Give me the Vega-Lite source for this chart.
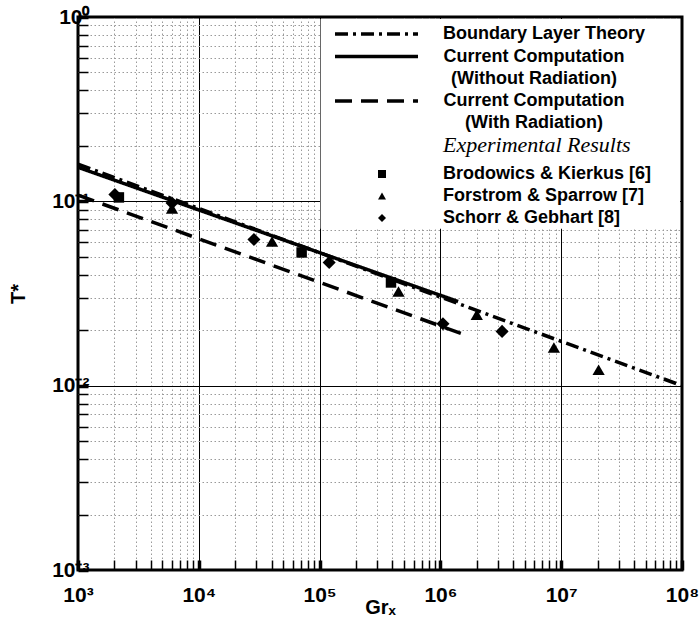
{
  "$schema": "https://vega.github.io/schema/vega-lite/v6.json",
  "width": 604,
  "height": 553,
  "autosize": "none",
  "padding": {"left": 78, "top": 17, "right": 18, "bottom": 51},
  "background": "white",
  "config": {
    "view": {"stroke": "black", "strokeWidth": 3},
    "font": "Liberation Sans",
    "axis": {
      "zindex": 0,
      "domain": false,
      "tickColor": "black",
      "tickSize": -10,
      "tickWidth": {"condition": {"test": "abs(log(datum.value)/LN10 - round(log(datum.value)/LN10)) < 0.001", "value": 3.5}, "value": 1.5},
      "grid": true,
      "gridColor": {"condition": {"test": "abs(log(datum.value)/LN10 - round(log(datum.value)/LN10)) < 0.001", "value": "black"}, "value": "#9a9a9a"},
      "gridDash": {"condition": {"test": "abs(log(datum.value)/LN10 - round(log(datum.value)/LN10)) < 0.001", "value": []}, "value": [1.5, 2.5]},
      "gridWidth": 1,
      "labelFont": "Liberation Sans",
      "labelFontWeight": "bold",
      "labelFontSize": 21,
      "labelColor": "black",
      "labelOverlap": false,
      "labelFlush": false,
      "labelBound": false,
      "titleFont": "Liberation Sans",
      "titleFontWeight": "bold",
      "titleFontSize": 20,
      "titleColor": "black"
    },
    "legend": {
      "labelFont": "Liberation Sans",
      "labelFontWeight": "bold",
      "labelFontSize": 18,
      "labelColor": "black",
      "labelLimit": 400
    }
  },
  "datasets": {
    "lines": [
      {"series": "Boundary Layer Theory", "Gr": 1000, "T": 0.159},
      {"series": "Boundary Layer Theory", "Gr": 100000000, "T": 0.01},
      {"series": "Current Computation (Without Radiation)", "Gr": 1000, "T": 0.153},
      {"series": "Current Computation (Without Radiation)", "Gr": 1400000, "T": 0.0286},
      {"series": "Current Computation (With Radiation)", "Gr": 1000, "T": 0.108},
      {"series": "Current Computation (With Radiation)", "Gr": 1660000, "T": 0.0187}
    ],
    "points": [
      {"source": "Brodowics & Kierkus [6]", "Gr": 2180, "T": 0.105},
      {"source": "Brodowics & Kierkus [6]", "Gr": 71000, "T": 0.0528},
      {"source": "Brodowics & Kierkus [6]", "Gr": 390000, "T": 0.0363},
      {"source": "Forstrom & Sparrow [7]", "Gr": 6000, "T": 0.0916},
      {"source": "Forstrom & Sparrow [7]", "Gr": 40400, "T": 0.0606},
      {"source": "Forstrom & Sparrow [7]", "Gr": 450000, "T": 0.0324},
      {"source": "Forstrom & Sparrow [7]", "Gr": 2000000, "T": 0.0243},
      {"source": "Forstrom & Sparrow [7]", "Gr": 8700000, "T": 0.0161},
      {"source": "Forstrom & Sparrow [7]", "Gr": 20400000, "T": 0.0122},
      {"source": "Schorr & Gebhart [8]", "Gr": 2020, "T": 0.109},
      {"source": "Schorr & Gebhart [8]", "Gr": 6000, "T": 0.098},
      {"source": "Schorr & Gebhart [8]", "Gr": 28600, "T": 0.0621},
      {"source": "Schorr & Gebhart [8]", "Gr": 120000, "T": 0.0466},
      {"source": "Schorr & Gebhart [8]", "Gr": 1050000, "T": 0.0217},
      {"source": "Schorr & Gebhart [8]", "Gr": 3240000, "T": 0.0197}
    ]
  },
  "layer": [
    {
      "data": {"values": [{"box": 1}]},
      "mark": {"type": "rect", "fill": "white", "xOffset": 1, "x2Offset": -2, "y2Offset": 2},
      "encoding": {
        "x": {"datum": 100000, "type": "quantitative", "scale": {"type": "log"}},
        "x2": {"datum": 100000000},
        "y": {"datum": 0.071, "type": "quantitative", "scale": {"type": "log"}},
        "y2": {"datum": 1}
      }
    },
    {
      "data": {"name": "lines"},
      "mark": {"type": "line", "color": "black", "strokeWidth": 3.5, "strokeCap": "butt"},
      "encoding": {
        "x": {
          "field": "Gr", "type": "quantitative",
          "scale": {"type": "log", "domain": [1000, 100000000], "nice": false},
          "axis": {
            "title": "Grₓ",
            "titleBaseline": "alphabetic",
            "titleY": 43,
            "values": [1000,2000,3000,4000,5000,6000,7000,8000,9000,10000,20000,30000,40000,50000,60000,70000,80000,90000,100000,200000,300000,400000,500000,600000,700000,800000,900000,1000000,2000000,3000000,4000000,5000000,6000000,7000000,8000000,9000000,10000000,20000000,30000000,40000000,50000000,60000000,70000000,80000000,90000000,100000000],
            "labelPadding": 24,
            "labelExpr": "abs(log(datum.value)/LN10 - round(log(datum.value)/LN10)) < 0.001 ? '10' + ['⁰','¹','²','³','⁴','⁵','⁶','⁷','⁸','⁹'][round(log(datum.value)/LN10)] : ''"
          }
        },
        "y": {
          "field": "T", "type": "quantitative",
          "scale": {"type": "log", "domain": [0.001, 1], "nice": false},
          "axis": {
            "title": "T*",
            "titleX": -54,
            "titleBaseline": "alphabetic",
            "values": [0.001,0.002,0.003,0.004,0.005,0.006,0.007,0.008,0.009,0.01,0.02,0.03,0.04,0.05,0.06,0.07,0.08,0.09,0.1,0.2,0.3,0.4,0.5,0.6,0.7,0.8,0.9,1],
            "labelPadding": -1,
            "labelExpr": "abs(log(datum.value)/LN10 - round(log(datum.value)/LN10)) < 0.001 ? '10' + (round(log(datum.value)/LN10) < 0 ? '⁻' : '') + ['⁰','¹','²','³'][abs(round(log(datum.value)/LN10))] : ''"
          }
        },
        "strokeDash": {
          "field": "series", "type": "nominal",
          "scale": {
            "domain": ["Boundary Layer Theory", "Current Computation (Without Radiation)", "Current Computation (With Radiation)"],
            "range": [[13, 5, 3, 5], [1, 0], [17, 9]]
          },
          "legend": {
            "title": null,
            "orient": "none",
            "legendX": 286,
            "legendY": 4.5,
            "symbolType": "M-4,0H4",
            "symbolSize": 430.6,
            "symbolStrokeWidth": 3.5,
            "symbolStrokeColor": "black",
            "labelOffset": 54,
            "rowPadding": 0.5,
            "labelExpr": "datum.label == 'Boundary Layer Theory' ? datum.label : (datum.label == 'Current Computation (Without Radiation)' ? ['Current Computation', '(Without Radiation)'] : ['Current Computation', '(With Radiation)'])",
            "encode": {
              "labels": {"update": {
                "lineHeight": {"value": 22},
                "align": {"signal": "datum.label == 'Boundary Layer Theory' ? 'left' : 'center'"},
                "dx": {"signal": "datum.label == 'Boundary Layer Theory' ? 0 : 91"}
              }}
            }
          }
        }
      }
    },
    {
      "data": {"name": "points"},
      "transform": [{"filter": "datum.source == 'Brodowics & Kierkus [6]'"}],
      "mark": {"type": "point", "filled": true, "color": "black", "opacity": 1, "size": 110},
      "encoding": {
        "x": {"field": "Gr", "type": "quantitative", "scale": {"type": "log"}},
        "y": {"field": "T", "type": "quantitative", "scale": {"type": "log"}},
        "shape": {
          "field": "source", "type": "nominal",
          "scale": {
            "domain": ["Brodowics & Kierkus [6]", "Forstrom & Sparrow [7]", "Schorr & Gebhart [8]"],
            "range": ["square", "triangle-up", "diamond"]
          },
          "legend": {
            "title": "Experimental Results",
            "titleFont": "Liberation Serif",
            "titleFontStyle": "italic",
            "titleFontWeight": "normal",
            "titleFontSize": 22,
            "titleColor": "black",
            "titleAnchor": "start",
            "titleLimit": 400,
            "titlePadding": 8,
            "orient": "none",
            "legendX": 365,
            "legendY": 118,
            "symbolSize": 64,
            "symbolOffset": -70,
            "symbolFillColor": "black",
            "symbolStrokeColor": "black",
            "symbolStrokeWidth": 0,
            "labelOffset": 52,
            "rowPadding": 4
          }
        }
      }
    },
    {
      "data": {"name": "points"},
      "transform": [{"filter": "datum.source == 'Forstrom & Sparrow [7]'"}],
      "mark": {"type": "point", "filled": true, "color": "black", "opacity": 1, "size": 150},
      "encoding": {
        "x": {"field": "Gr", "type": "quantitative", "scale": {"type": "log"}},
        "y": {"field": "T", "type": "quantitative", "scale": {"type": "log"}},
        "shape": {"field": "source", "type": "nominal"}
      }
    },
    {
      "data": {"name": "points"},
      "transform": [{"filter": "datum.source == 'Schorr & Gebhart [8]'"}],
      "mark": {"type": "point", "filled": true, "color": "black", "opacity": 1, "size": 170},
      "encoding": {
        "x": {"field": "Gr", "type": "quantitative", "scale": {"type": "log"}},
        "y": {"field": "T", "type": "quantitative", "scale": {"type": "log"}},
        "shape": {"field": "source", "type": "nominal"}
      }
    }
  ]
}
